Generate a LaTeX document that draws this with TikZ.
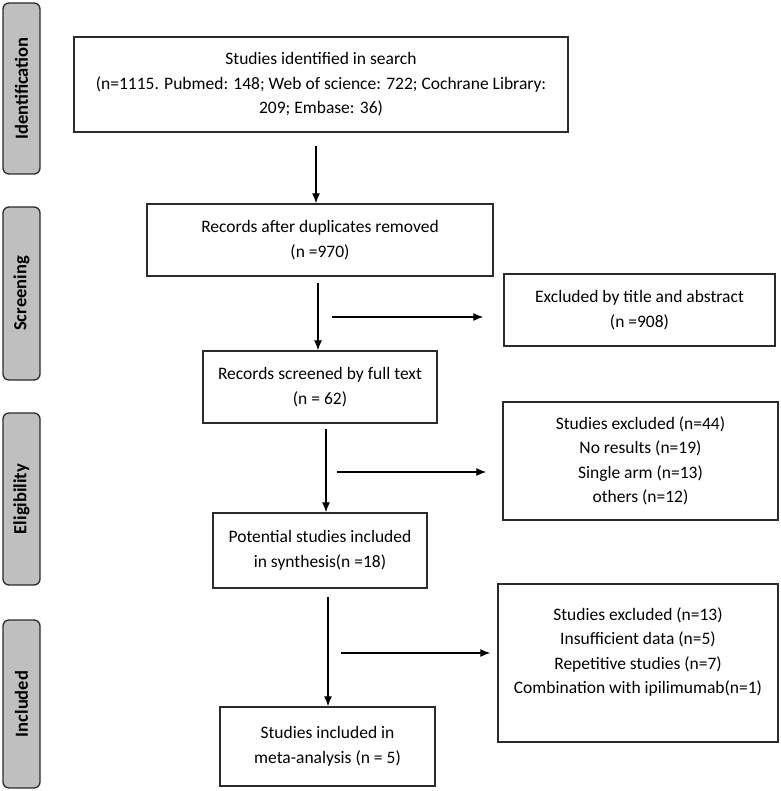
\documentclass[tikz,border=0pt]{standalone}
\usepackage{fontspec}
\setmainfont{Carlito}
\usetikzlibrary{arrows.meta}
\definecolor{barfill}{HTML}{BFBFBF}
\definecolor{edge}{HTML}{2B2B2B}
\tikzset{
  box/.style={draw=edge, line width=1.4pt, align=center, inner sep=0pt,
    font=\fontsize{17.5}{24.5}\selectfont},
  txt/.style={align=center, inner sep=0pt, font=\fontsize{17.5}{24.5}\selectfont},
  phase/.style={draw=edge, line width=1.3pt, fill=barfill, rounded corners=6pt,
    rotate=90, minimum height=37pt, inner sep=0pt,
    font=\fontsize{18.5}{20}\selectfont\bfseries},
  arr/.style={line width=1.3pt, -{Latex[length=10pt,width=8pt]}}
}
\begin{document}
\begin{tikzpicture}[x=1pt,y=-1pt]
\useasboundingbox (0,0) rectangle (780,791);
% phase bars
\node[phase, minimum width=171pt] (pI) at (21.5,88.5) {Identification};
\node[phase, minimum width=173pt] (pS) at (21.5,293.5) {Screening};
\node[phase, minimum width=172pt] (pE) at (21.5,499) {Eligibility};
\node[phase, minimum width=168pt] (pN) at (21.5,704) {Included};
% boxes
\node[box, minimum width=494pt, minimum height=95pt] (b1) at (321,84.5)
  {Studies identified in search\\(n=1115. Pubmed: 148; Web of science: 722; Cochrane Library:\\209; Embase: 36)};
\node[box, minimum width=346pt, minimum height=72pt] (b2) at (320,240)
  {Records after duplicates removed\\(n =970)};
\node[box, minimum width=271pt, minimum height=72pt] (b3) at (639.5,310)
  {Excluded by title and abstract\\(n =908)};
\node[box, minimum width=234pt, minimum height=72pt] (b4) at (320,387)
  {Records screened by full text\\(n = 62)};
\node[box, minimum width=275pt, minimum height=118pt] (b5) at (640.5,461)
  {Studies excluded (n=44)\\No results (n=19)\\Single arm (n=13)\\others (n=12)};
\node[box, minimum width=214pt, minimum height=75pt] (b6) at (320,550.5)
  {Potential studies included\\in synthesis(n =18)};
\node[box, minimum width=280pt, minimum height=158pt] (b7) at (638,663) {};
\node[txt] (t7) at (638,652)
  {Studies excluded (n=13)\\Insufficient data (n=5)\\Repetitive studies (n=7)\\Combination with ipilimumab(n=1)};
\node[box, minimum width=215pt, minimum height=79pt] (b8) at (327.5,746.5)
  {Studies included in\\meta-analysis (n = 5)};
% arrow anchors
\coordinate (a1) at (316,0);
\coordinate (a2) at (318,0);
\coordinate (a3) at (326,0);
\coordinate (a4) at (328,0);
\coordinate (h1) at (332,317);
\coordinate (h2) at (337,472);
\coordinate (h3) at (341,653);
% vertical arrows
\draw[arr, shorten <=13pt] (b1.south -| a1) -- (b2.north -| a1);
\draw[arr, shorten <=6pt] (b2.south -| a2) -- (b4.north -| a2);
\draw[arr, shorten <=5pt] (b4.south -| a3) -- (b6.north -| a3);
\draw[arr, shorten <=8pt] (b6.south -| a4) -- (b8.north -| a4);
% horizontal arrows
\draw[arr, shorten >=20pt] (h1) -- (h1 -| b3.west);
\draw[arr, shorten >=16pt] (h2) -- (h2 -| b5.west);
\draw[arr, shorten >=7pt] (h3) -- (h3 -| b7.west);
\end{tikzpicture}
\end{document}
